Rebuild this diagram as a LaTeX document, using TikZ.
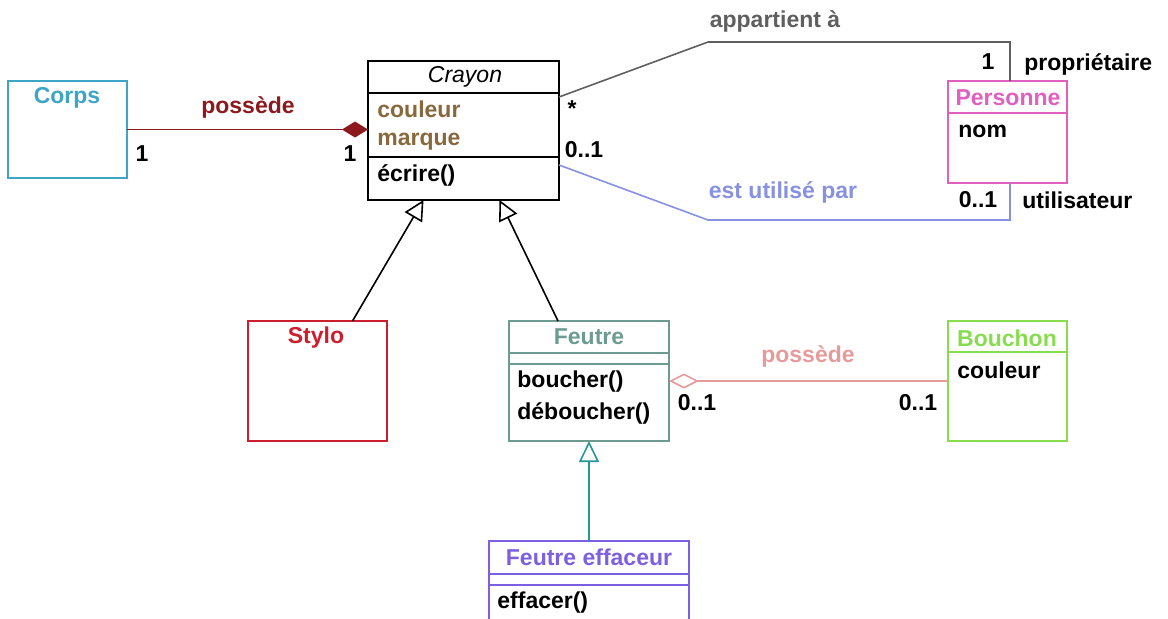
\documentclass[tikz,border=0pt]{standalone}
\usepackage{fontspec}
\setmainfont{Liberation Sans}
\usepackage{tikz}
\usetikzlibrary{arrows.meta}

\definecolor{corpsc}{RGB}{60,165,200}
\definecolor{compoc}{RGB}{140,25,30}
\definecolor{attrc}{RGB}{135,105,60}
\definecolor{apparc}{RGB}{95,95,95}
\definecolor{utilc}{RGB}{135,145,225}
\definecolor{persc}{RGB}{225,95,190}
\definecolor{styloc}{RGB}{205,30,45}
\definecolor{feutrec}{RGB}{110,155,145}
\definecolor{aggrc}{RGB}{230,155,155}
\definecolor{bouchc}{RGB}{135,220,80}
\definecolor{effc}{RGB}{125,95,225}
\definecolor{heritc}{RGB}{40,150,150}

\tikzset{
	classe/.style={draw,rectangle,inner sep=0pt,outer sep=0pt,anchor=north west,line width=0.8pt},
	txt/.style={font=\bfseries\fontsize{11.5}{13}\selectfont,inner sep=0pt},
	membre/.style={txt,anchor=west},
	lien/.style={line width=0.8pt},
}

\begin{document}
\begin{tikzpicture}[x=0.5pt,y=-0.5pt]
		\clip (0,0) rectangle (1168,618);
%		\draw[help lines] (0,0) grid (1168,618);
		\path (708,42) coordinate (app1);
		\path (1010,42) coordinate (app2);
		\path (708,220) coordinate (util1);
		\path (1010,220) coordinate (util2);

		% classes
		\node[classe,draw=corpsc,minimum width=59.5pt,minimum height=48.5pt] (corps) at (8,81) {};
		\node[classe,draw=black,minimum width=95.5pt,minimum height=69.5pt] (crayon) at (368,61) {};
		\node[classe,draw=persc,minimum width=59.5pt,minimum height=51pt] (personne) at (948,81) {};
		\node[classe,draw=styloc,minimum width=69.5pt,minimum height=60pt] (stylo) at (248,321) {};
		\node[classe,draw=feutrec,minimum width=80pt,minimum height=60pt] (feutre) at (509,321) {};
		\node[classe,draw=bouchc,minimum width=59.5pt,minimum height=60pt] (bouchon) at (948,321) {};
		\node[classe,draw=effc,minimum width=100pt,minimum height=50pt] (effaceur) at (489,541) {};

		% compartiments
		\draw[lien] (368,93) -- (559,93);
		\draw[lien] (368,157) -- (559,157);
		\draw[lien,persc] (948,113) -- (1067,113);
		\draw[lien,feutrec] (509,353) -- (669,353);
		\draw[lien,feutrec] (509,364) -- (669,364);
		\draw[lien,bouchc] (948,352) -- (1067,352);
		\draw[lien,effc] (489,574) -- (689,574);
		\draw[lien,effc] (489,585) -- (689,585);

		% titres et membres
		\node[txt,text=corpsc] (corpsT) at (67,98) {Corps};
		\node[txt,font=\itshape\fontsize{11.5}{13}\selectfont] (crayonT) at (465,77) {Crayon};
		\node[membre,text=attrc] (couleurA) at (377,109) {couleur};
		\node[membre,text=attrc] (marqueA) at (377,142) {marque};
		\node[membre] (ecrireM) at (377,175) {écrire()};
		\node[txt,text=persc] (personneT) at (1008,98) {Personne};
		\node[membre] (nomA) at (958,131) {nom};
		\node[txt,text=styloc] (styloT) at (316,338) {Stylo};
		\node[txt,text=feutrec] (feutreT) at (589,337) {Feutre};
		\node[membre] (boucherM) at (517,382) {boucher()};
		\node[membre] (deboucherM) at (517,413) {déboucher()};
		\node[txt,text=bouchc] (bouchonT) at (1007,338) {Bouchon};
		\node[membre] (couleurB) at (957,370) {couleur};
		\node[txt,text=effc] (effaceurT) at (589,557) {Feutre effaceur};
		\node[membre] (effacerM) at (497,603) {effacer()};

		% associations
		\draw[lien,compoc,-{Diamond[length=13pt,width=8pt]}] (corps.east) -- (corps.east -| crayon.west);
		\node[txt,text=compoc] (possedeC) at (248,107) {possède};
		\node[txt] (corpsM) at (142,154) {1};
		\node[txt] (crayonM) at (350,154) {1};

		\draw[lien,apparc] ([yshift=-18pt]crayon.north east) -- (app1) -- (app2) -- (personne.north -| app2);
		\node[txt,text=apparc] (appartientL) at (775,21) {appartient à};
		\node[txt] (etoile) at (572,109) {*};
		\node[txt] (propM) at (988,62) {1};
		\node[membre] (propR) at (1024,64) {propriétaire};

		\draw[lien,utilc] ([yshift=-52pt]crayon.north east) -- (util1) -- (util2) -- (personne.south -| util2);
		\node[txt,text=utilc] (utiliseL) at (783,192) {est utilisé par};
		\node[txt] (crayonU) at (584,150) {0..1};
		\node[txt] (persU) at (978,200) {0..1};
		\node[membre] (utilR) at (1022,200) {utilisateur};

		\draw[lien,aggrc,{Diamond[open,length=15pt,width=7.5pt]}-] (feutre.east) -- (bouchon.west);
		\node[txt,text=aggrc] (possedeA) at (808,356) {possède};
		\node[txt] (feutreA) at (697,403) {0..1};
		\node[txt] (bouchonA) at (918,403) {0..1};

		% heritage
		\draw[lien,-{Triangle[open,length=10pt,width=10pt]}] ([xshift=17.5pt]stylo.north) -- ([xshift=-20pt]crayon.south);
		\draw[lien,-{Triangle[open,length=10pt,width=10pt]}] ([xshift=-15.5pt]feutre.north) -- ([xshift=18pt]crayon.south);
		\draw[lien,heritc,-{Triangle[open,length=10.5pt,width=10pt]}] (effaceur.north) -- (feutre.south);
	\end{tikzpicture}
\end{document}
